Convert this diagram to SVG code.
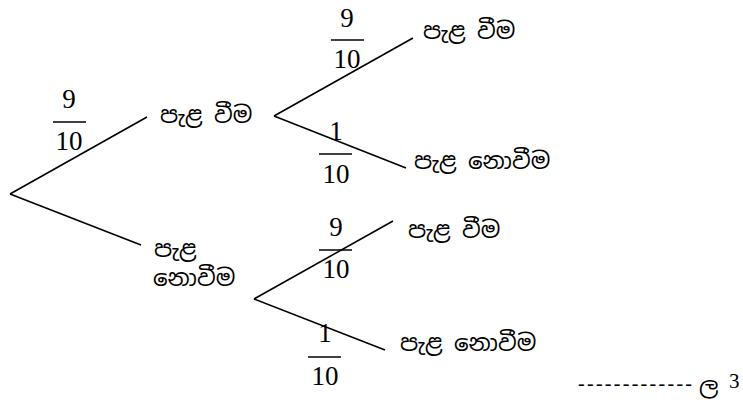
<svg xmlns="http://www.w3.org/2000/svg" width="743" height="407" viewBox="0 0 743 407">
<style>
.ln{stroke:#000;stroke-width:1.6;fill:none}
.si{font-family:"Iskoola Pota","Noto Sans Sinhala","Noto Serif Sinhala","Noto Sans","DejaVu Sans",sans-serif;font-size:23px;fill:#000}
.num{font-family:"Liberation Serif","DejaVu Serif",serif;font-size:27px;fill:#000;text-anchor:middle}
.bar{stroke:#000;stroke-width:1.6}
</style>
<rect width="743" height="407" fill="#fff"/>
<g id="connectors">
<line class="ln" x1="10" y1="194" x2="147" y2="117"/>
<line class="ln" x1="10" y1="194" x2="141" y2="245"/>
<line class="ln" x1="274" y1="116" x2="413" y2="38"/>
<line class="ln" x1="274" y1="116" x2="406" y2="168"/>
<line class="ln" x1="254" y1="299" x2="393" y2="221"/>
<line class="ln" x1="254" y1="299" x2="385" y2="350"/>
</g>
<g id="frac1">
<text class="num" x="69" y="108">9</text>
<line class="bar" x1="53" y1="122" x2="86" y2="122"/>
<text class="num" x="69" y="150">10</text>
</g>
<g id="frac2">
<text class="num" x="347" y="27">9</text>
<line class="bar" x1="331" y1="40" x2="364" y2="40"/>
<text class="num" x="347" y="68">10</text>
</g>
<g id="frac3">
<text class="num" x="336" y="140">1</text>
<line class="bar" x1="319" y1="154" x2="352" y2="154"/>
<text class="num" x="336" y="183">10</text>
</g>
<g id="frac4">
<text class="num" x="336" y="236">9</text>
<line class="bar" x1="319" y1="250" x2="352" y2="250"/>
<text class="num" x="336" y="278">10</text>
</g>
<g id="frac5">
<text class="num" x="325" y="342">1</text>
<line class="bar" x1="308" y1="357" x2="341" y2="357"/>
<text class="num" x="325" y="385">10</text>
</g>
<g id="n1"><text class="si" x="160" y="123">පැළ වීම</text></g>
<g id="n2"><text class="si" x="154" y="257">පැළ</text><text class="si" x="153" y="286">නොවීම</text></g>
<g id="n3"><text class="si" x="423" y="39">පැළ වීම</text></g>
<g id="n4"><text class="si" x="414" y="169">පැළ නොවීම</text></g>
<g id="n5"><text class="si" x="408" y="238">පැළ වීම</text></g>
<g id="n6"><text class="si" x="400" y="351">පැළ නොවීම</text></g>
<g id="marks">
<text x="578" y="390" font-family="Liberation Serif, serif" font-size="20" textLength="114" lengthAdjust="spacing">-------------</text>
<text class="si" x="699" y="394">ල</text>
<text x="729" y="388" font-family="Liberation Serif, serif" font-size="21">3</text>
</g>
</svg>
